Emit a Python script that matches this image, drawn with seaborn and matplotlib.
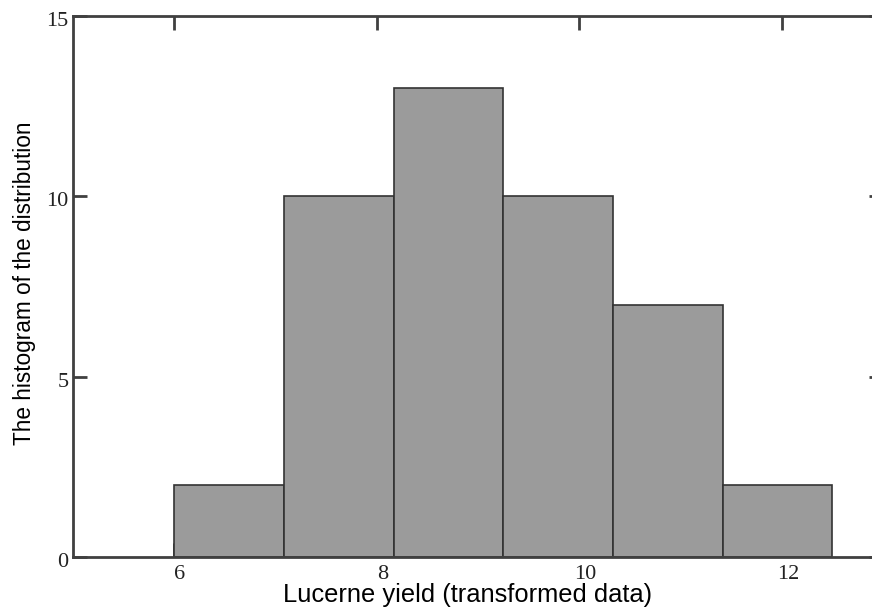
import numpy as np
import matplotlib
matplotlib.use("Agg")
import matplotlib.pyplot as plt
import matplotlib.transforms as mtransforms
import seaborn as sns

# histogram
bin_edges = [6.0, 7.083, 8.167, 9.25, 10.333, 11.417, 12.5]
counts = [2, 10, 13, 10, 7, 2]
x_ticks = [6, 8, 10, 12]
y_ticks = [0, 5, 10, 15]

bin_mids = [(a + b) / 2 for a, b in zip(bin_edges[:-1], bin_edges[1:])]

sns.set_style("ticks")
plt.rcParams['font.family'] = ['Liberation Serif', 'DejaVu Serif']

W, H = 872, 612
fig = plt.figure(figsize=(W / 100, H / 100), dpi=100)
ax = fig.add_axes([72.7 / W, 55 / H, 810.4 / W, 541 / H])

sns.histplot(x=bin_mids, weights=counts, bins=bin_edges, color="#9b9b9b",
             edgecolor="#333333", linewidth=1.2, alpha=1, ax=ax)

ax.set_xlim(5, 13)
ax.set_ylim(0, 15)
ax.set_xticks(x_ticks)
ax.set_yticks(y_ticks)
ax.set_axisbelow(True)
ax.tick_params(direction='in', length=10, width=2, color='#404040',
               top=True, right=True, labelsize=16, labelcolor='#222222')
ax.tick_params(axis='x', pad=6)
ax.tick_params(axis='y', pad=3)
for s in ax.spines.values():
    s.set_linewidth(2)
    s.set_color('#404040')

# labels sit a bit off their ticks in the original
for lbl in ax.get_xticklabels():
    lbl.set_transform(lbl.get_transform() + mtransforms.ScaledTranslation(6 / 100, 0, fig.dpi_scale_trans))
for lbl in ax.get_yticklabels():
    lbl.set_transform(lbl.get_transform() + mtransforms.ScaledTranslation(0, -3 / 100, fig.dpi_scale_trans))

ax.set_xlabel('')
ax.set_ylabel('')
fig.text(467.5 / W, 1 - 602 / H, 'Lucerne yield (transformed data)', ha='center', va='baseline',
         fontsize=18.4, family=['Liberation Sans', 'DejaVu Sans'], color='black')
fig.text(25 / W, 1 - 283 / H, 'The histogram of the distribution', ha='center', va='center',
         rotation=90, fontsize=16.3, family=['Liberation Sans', 'DejaVu Sans'], color='black')

fig.savefig('out.png', dpi=100)
